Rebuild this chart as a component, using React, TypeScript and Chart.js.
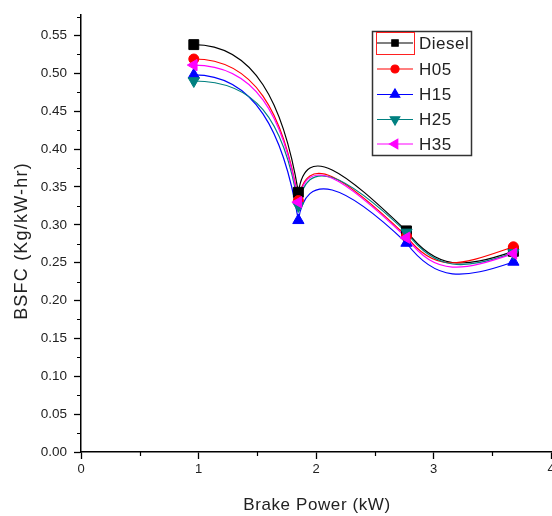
import React, { useEffect, useRef } from 'react';
import { Chart, registerables } from 'chart.js';
import { drawPoint } from 'chart.js/helpers';

Chart.register(...registerables);

// ---- data ----
const X_POWER = [0.96, 1.85, 2.77, 3.68];
const DIESEL = [0.538, 0.343, 0.292, 0.265];
const H05 = [0.519, 0.332, 0.285, 0.271];
const H15 = [0.498, 0.306, 0.276, 0.251];
const H25 = [0.49, 0.325, 0.29, 0.263];
const H35 = [0.511, 0.33, 0.283, 0.262];
const SERIES_NAMES = ['Diesel', 'H05', 'H15', 'H25', 'H35'];
const SERIES_VALUES = [DIESEL, H05, H15, H25, H35];
const X_TITLE = 'Brake Power (kW)';
const Y_TITLE = 'BSFC (Kg/kW-hr)';

// ---- styles ----
const COLORS = ['#000000', '#ff0000', '#0000ff', '#008080', '#ff00ff'];
const MARKERS = [
  { pointStyle: 'rect', rotation: 0, radius: 7, legendRadius: 4.5 },
  { pointStyle: 'circle', rotation: 0, radius: 5, legendRadius: 4 },
  { pointStyle: 'triangle', rotation: 0, radius: 6.5, legendRadius: 5.5 },
  { pointStyle: 'triangle', rotation: 180, radius: 6.5, legendRadius: 5.5 },
  { pointStyle: 'triangle', rotation: -90, radius: 6.5, legendRadius: 5.5 },
];
// bezier handle offsets (px) per segment: [c1dx, c1dy, c2dx, c2dy]
const HANDLES = [
  [60, 0, -15, -90],
  [8, -52, -62, -59],
  [30, 40, -50, 17],
];
const FONT = '"Liberation Sans", Arial, sans-serif';

const curvePlugin = {
  id: 'curves',
  beforeDatasetsDraw(chart: any) {
    const ctx = chart.ctx;
    ctx.save();
    for (let i = 0; i < chart.data.datasets.length; i++) {
      const meta = chart.getDatasetMeta(i);
      const pts = meta.data;
      ctx.beginPath();
      ctx.strokeStyle = COLORS[i];
      ctx.lineWidth = 1.2;
      ctx.moveTo(pts[0].x, pts[0].y);
      for (let s = 0; s < pts.length - 1; s++) {
        const a = pts[s];
        const b = pts[s + 1];
        const h = HANDLES[s];
        ctx.bezierCurveTo(a.x + h[0], a.y + h[1], b.x + h[2], b.y + h[3], b.x, b.y);
      }
      ctx.stroke();
    }
    ctx.restore();
  },
};

const decoPlugin = {
  id: 'deco',
  afterDraw(chart: any) {
    const ctx = chart.ctx;
    const xs = chart.scales.x;
    const ys = chart.scales.y;
    ctx.save();
    // minor ticks
    ctx.strokeStyle = '#000';
    ctx.lineWidth = 1.2;
    ctx.beginPath();
    for (let v = 0.025; v < ys.max; v += 0.05) {
      const y = Math.round(ys.getPixelForValue(v)) + 0.5;
      ctx.moveTo(xs.left - 4, y);
      ctx.lineTo(xs.left, y);
    }
    for (let v = 0.5; v < xs.max; v += 1) {
      const x = Math.round(xs.getPixelForValue(v)) + 0.5;
      ctx.moveTo(x, ys.bottom);
      ctx.lineTo(x, ys.bottom + 4);
    }
    ctx.stroke();

    // axis titles
    ctx.fillStyle = '#222';
    ctx.textAlign = 'center';
    ctx.textBaseline = 'middle';
    (ctx as any).letterSpacing = '0.6px';
    ctx.font = `17px ${FONT}`;
    ctx.fillText(X_TITLE, (xs.left + xs.right) / 2 + 1, 505);
    ctx.save();
    ctx.translate(22.5, 241);
    ctx.rotate(-Math.PI / 2);
    (ctx as any).letterSpacing = '1.2px';
    ctx.font = `18px ${FONT}`;
    ctx.fillText(Y_TITLE, 0, 0);
    ctx.restore();

    // legend
    const bx = 372, by = 31, bw = 99, bh = 124;
    ctx.fillStyle = '#fff';
    ctx.fillRect(bx, by, bw, bh);
    ctx.strokeStyle = '#333';
    ctx.lineWidth = 1.5;
    ctx.strokeRect(bx + 0.5, by + 0.5, bw, bh);
    const rows = [43, 69, 94.5, 119.5, 144];
    for (let i = 0; i < SERIES_NAMES.length; i++) {
      const y = rows[i];
      ctx.strokeStyle = COLORS[i];
      ctx.lineWidth = 1.2;
      ctx.beginPath();
      ctx.moveTo(377, y);
      ctx.lineTo(413, y);
      ctx.stroke();
      ctx.fillStyle = COLORS[i];
      drawPoint(ctx, {
        pointStyle: MARKERS[i].pointStyle as any,
        rotation: MARKERS[i].rotation,
        radius: MARKERS[i].legendRadius,
        borderWidth: 1,
      } as any, 395, y);
      ctx.fillStyle = '#222';
      ctx.textAlign = 'left';
      (ctx as any).letterSpacing = i === 0 ? '0.5px' : '0.5px';
      ctx.font = `17px ${FONT}`;
      ctx.fillText(SERIES_NAMES[i], 419, y + 1);
    }
    (ctx as any).letterSpacing = '0px';
    ctx.strokeStyle = '#ff2020';
    ctx.lineWidth = 1;
    ctx.strokeRect(376.5, 32.5, 38, 22);
    ctx.restore();
  },
};

export default function App() {
  const ref = useRef<HTMLCanvasElement>(null);
  useEffect(() => {
    const canvas = ref.current!;
    const chart = new Chart(canvas, {
      type: 'line',
      data: {
        datasets: SERIES_NAMES.map((name, i) => ({
          label: name,
          data: X_POWER.map((x, k) => ({ x, y: SERIES_VALUES[i][k] })),
          showLine: false,
          order: SERIES_NAMES.length - i,
          borderColor: COLORS[i],
          backgroundColor: COLORS[i],
          pointStyle: MARKERS[i].pointStyle as any,
          rotation: MARKERS[i].rotation,
          pointRadius: MARKERS[i].radius,
          pointBorderWidth: 1,
        })),
      },
      options: {
        animation: false,
        responsive: false,
        devicePixelRatio: 1,
        layout: { padding: { left: 0, top: 8, right: 13, bottom: 0 } },
        plugins: { legend: { display: false }, tooltip: { enabled: false } },
        scales: {
          x: {
            type: 'linear',
            min: 0,
            max: 4,
            afterFit: (s: any) => { s.height = 64; },
            ticks: { stepSize: 1, padding: 3, color: '#222', font: { family: FONT, size: 13 } },
            grid: { drawOnChartArea: false, drawTicks: true, tickLength: 7, tickColor: '#000', tickWidth: 1.3 },
            border: { display: true, color: '#000', width: 1.5 },
          },
          y: {
            type: 'linear',
            min: 0,
            max: 0.577,
            afterFit: (s: any) => { s.width = 81; },
            ticks: {
              stepSize: 0.05,
              includeBounds: false,
              padding: 7,
              color: '#222',
              font: { family: FONT, size: 13.5 },
              callback: (v: any) => Number(v).toFixed(2),
            },
            grid: { drawOnChartArea: false, drawTicks: true, tickLength: 7, tickColor: '#000', tickWidth: 1.3 },
            border: { display: true, color: '#000', width: 1.5 },
          },
        },
      },
      plugins: [curvePlugin, decoPlugin],
    });
    return () => chart.destroy();
  }, []);
  return (
    <div style={{ position: 'absolute', left: 0, top: 0, width: 552, height: 516, overflow: 'hidden', background: '#fff' }}>
      <canvas ref={ref} width={564} height={516} style={{ display: 'block' }} />
    </div>
  );
}
